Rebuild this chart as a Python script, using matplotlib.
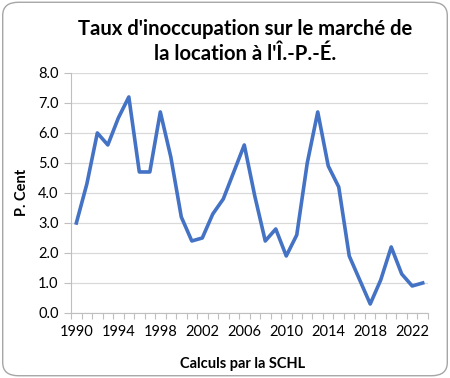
import numpy as np
import matplotlib.pyplot as plt
from matplotlib.patches import FancyBboxPatch
from matplotlib.ticker import FormatStrFormatter

plt.rcParams['font.family'] = ['Lato', 'DejaVu Sans']

years = list(range(1990, 2024))
vacancy = [3.0, 4.3, 6.0, 5.6, 6.5, 7.2, 4.7, 4.7, 6.7, 5.2,
           3.2, 2.4, 2.5, 3.3, 3.8, 4.7, 5.6, 3.9, 2.4, 2.8,
           1.9, 2.6, 5.0, 6.7, 4.9, 4.2, 1.9, 1.1, 0.3, 1.1,
           2.2, 1.3, 0.9, 1.0]
title = "Taux d'inoccupation sur le marché de\nla location à l'Î.-P.-É."
y_label = "P. Cent"
x_label = "Calculs par la SCHL"

fig = plt.figure(figsize=(4.5, 3.78), dpi=100)
ax = fig.add_axes([0.158, 0.172, 0.793, 0.635])

ax.plot(years, vacancy, color='#4472C4', linewidth=2.6, solid_joinstyle='round')

ax.set_xlim(1989.5, 2023.5)
ax.set_ylim(0, 8)
ax.set_yticks(np.arange(0, 8.1, 1.0))
ax.yaxis.set_major_formatter(FormatStrFormatter('%.1f'))
ax.set_xticks(range(1990, 2023, 4))
ax.set_xticks(np.arange(1989.5, 2024, 1), minor=True)
ax.tick_params(axis='x', which='major', length=0, pad=9, labelsize=10.5)
ax.tick_params(axis='x', which='minor', length=4, color='#BFBFBF', width=0.8)
ax.tick_params(axis='y', length=5, color='#BFBFBF', width=0.8, labelsize=10.5, pad=4)

ax.grid(axis='y', color='#D9D9D9', linewidth=0.9)
ax.set_axisbelow(True)
for side in ['top', 'right']:
    ax.spines[side].set_visible(False)
ax.spines['left'].set_color('#BFBFBF')
ax.spines['bottom'].set_color('#BFBFBF')

fig.text(0.545, 0.89, title, ha='center', va='center', fontsize=14.6,
         fontweight='bold', linespacing=1.35)
fig.text(0.54, 0.037, x_label, ha='center', va='center', fontsize=10.5, fontweight='bold')
fig.text(0.05, 0.49, y_label, ha='center', va='center', fontsize=10.5,
         fontweight='bold', rotation=90)

border = FancyBboxPatch((0.006, 0.006), 0.988, 0.988, transform=fig.transFigure,
                        boxstyle='round,pad=0,rounding_size=0.035',
                        facecolor='none', edgecolor='#A6A6A6', linewidth=1.0)
fig.patches.append(border)

fig.savefig('out.png', dpi=100)
